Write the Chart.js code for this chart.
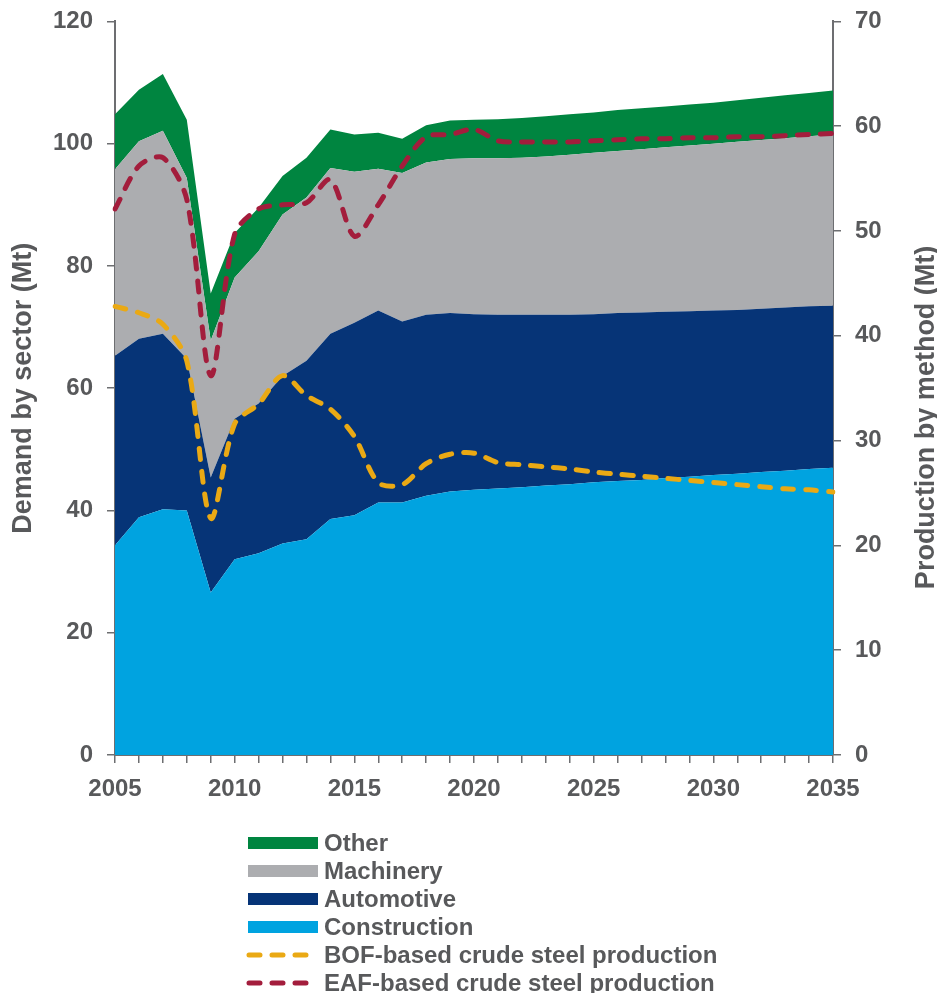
<!DOCTYPE html>
<html>
<head>
<meta charset="utf-8">
<script src="https://cdn.jsdelivr.net/npm/chart.js@4"></script>
<style>
  body { margin: 0; background: #fff; font-family: "Liberation Sans", Arial, sans-serif; }
  #wrap { position: relative; width: 937px; height: 993px; overflow: hidden; }
  #box { position: absolute; left: 0; top: -7px; width: 937px; height: 812px; }
  #legend { position: absolute; left: 246px; top: 829px; }
  .item { display: flex; align-items: center; height: 28px; }
  .item canvas { width: 72px; height: 14px; margin-right: 6px; }
  .item span { font-weight: bold; font-size: 24px; color: #58595b; }
</style>
</head>
<body>
<div id="wrap">
  <div id="box"><canvas id="steel"></canvas></div>
  <div id="legend"></div>
</div>
<script>
const years = ['2005','2006','2007','2008','2009','2010','2011','2012','2013','2014','2015',
  '2016','2017','2018','2019','2020','2021','2022','2023','2024','2025',
  '2026','2027','2028','2029','2030','2031','2032','2033','2034','2035']

// demand by sector, Mt (stacked)
const construction = [34.3, 38.9, 40.2, 40.0, 26.6, 32.0, 33.0, 34.6, 35.3, 38.6, 39.2,
  41.3, 41.3, 42.4, 43.1, 43.4, 43.6, 43.8, 44.1, 44.3, 44.6,
  44.8, 45.0, 45.3, 45.5, 45.8, 46.0, 46.3, 46.5, 46.8, 47.0]
const automotive = [31.0, 29.2, 28.7, 24.8, 18.8, 23.0, 24.5, 27.4, 29.2, 30.3, 31.5,
  31.4, 29.6, 29.6, 29.2, 28.7, 28.4, 28.2, 27.9, 27.7, 27.5,
  27.5, 27.4, 27.2, 27.1, 26.9, 26.8, 26.7, 26.7, 26.6, 26.5]
const machinery = [30.5, 32.3, 33.2, 29.6, 22.4, 23.1, 24.9, 26.4, 26.7, 27.1, 24.7,
  23.2, 24.3, 24.9, 25.2, 25.5, 25.6, 25.7, 25.9, 26.2, 26.4,
  26.5, 26.7, 26.9, 27.1, 27.3, 27.5, 27.6, 27.7, 27.8, 28.0]
const other = [9.0, 8.4, 9.3, 9.5, 7.7, 7.3, 7.1, 6.3, 6.5, 6.3, 6.1,
  5.9, 5.6, 6.1, 6.3, 6.3, 6.4, 6.5, 6.6, 6.6, 6.6,
  6.7, 6.7, 6.7, 6.7, 6.7, 6.8, 6.9, 7.0, 7.1, 7.2]

// production by method, Mt (right axis)
const bof = [42.8, 42.2, 41.1, 37.6, 22.6, 31.6, 33.5, 36.2, 34.3, 33.0, 30.4,
  26.0, 25.8, 27.8, 28.7, 28.8, 27.9, 27.7, 27.5, 27.3, 27.0,
  26.8, 26.6, 26.4, 26.2, 26.0, 25.8, 25.6, 25.4, 25.3, 25.1]
const eaf = [52.1, 56.2, 57.0, 53.0, 36.2, 49.7, 52.1, 52.5, 52.7, 54.9, 49.5,
  52.5, 56.2, 59.0, 59.2, 59.7, 58.6, 58.5, 58.5, 58.5, 58.6,
  58.7, 58.8, 58.8, 58.9, 58.9, 59.0, 59.0, 59.1, 59.2, 59.3]

const leftTicks = [0, 20, 40, 60, 80, 100, 120]
const rightTicks = [0, 10, 20, 30, 40, 50, 60, 70]
const leftTitle = 'Demand by sector (Mt)'
const rightTitle = 'Production by method (Mt)'

const textColor = '#58595b'
const axisColor = '#6d6e71'
const fontFamily = 'Liberation Sans, Arial, sans-serif'
const tickFont = { family: fontFamily, size: 24, weight: 'bold' }
const titleFont = { family: fontFamily, size: 27, weight: 'bold', lineHeight: 1 }

function area(label, data, color, fill) {
  return {
    label: label, data: data, yAxisID: 'y', fill: fill,
    backgroundColor: color, borderColor: color, borderWidth: 0,
    pointRadius: 0, tension: 0
  }
}
function dashed(label, data, color) {
  return {
    label: label, data: data, yAxisID: 'y1', fill: false, order: -1,
    borderColor: color, backgroundColor: color, borderWidth: 5,
    borderDash: [11, 12], borderCapStyle: 'round', borderJoinStyle: 'round',
    pointRadius: 0, tension: 0.3
  }
}

// right-hand title reads bottom-to-top like the left one
const rightTitlePlugin = {
  id: 'rightTitle',
  afterDraw(chart) {
    const ctx = chart.ctx
    ctx.save()
    ctx.translate(chart.width - 10, chart.chartArea.top + 396)
    ctx.rotate(-Math.PI / 2)
    ctx.font = 'bold 27px ' + fontFamily
    ctx.fillStyle = textColor
    ctx.textAlign = 'center'
    ctx.textBaseline = 'middle'
    ctx.fillText(rightTitle, 0, 0)
    ctx.restore()
  }
}

const chart = new Chart(document.getElementById('steel'), {
  type: 'line',
  data: {
    labels: years,
    datasets: [
      area('Construction', construction, '#00a3e0', 'origin'),
      area('Automotive', automotive, '#063477', '-1'),
      area('Machinery', machinery, '#acadb0', '-1'),
      area('Other', other, '#008540', '-1'),
      dashed('BOF-based crude steel production', bof, '#eaa914'),
      dashed('EAF-based crude steel production', eaf, '#a31d3c')
    ]
  },
  plugins: [rightTitlePlugin],
  options: {
    responsive: true,
    maintainAspectRatio: false,
    animation: false,
    layout: { padding: { top: 13, left: 0, right: 0, bottom: 0 } },
    plugins: { legend: { display: false }, tooltip: { enabled: false } },
    scales: {
      x: {
        offset: false,
        grid: { display: true, drawOnChartArea: false, drawTicks: true, tickLength: 8, color: axisColor, lineWidth: 1.5 },
        border: { display: true, color: axisColor, width: 2 },
        ticks: {
          autoSkip: false, maxRotation: 0, padding: 12, color: textColor, font: tickFont,
          callback: function (v, i) { return years[i] % 5 === 0 ? years[i] : '' }
        },
        afterFit: s => { s.height = 50 }
      },
      y: {
        position: 'left', stacked: true, min: 0, max: 120,
        afterBuildTicks: s => { s.ticks = leftTicks.map(v => ({ value: v })) },
        grid: { drawOnChartArea: false, tickLength: 8, color: axisColor, lineWidth: 1.5 },
        border: { display: true, color: axisColor, width: 2 },
        ticks: { padding: 14, color: textColor, font: tickFont },
        title: {
          display: true, text: leftTitle, color: textColor,
          font: titleFont, padding: { top: 10, bottom: 0 }
        },
        afterFit: s => { s.width = 115 }
      },
      y1: {
        position: 'right', stacked: false, min: 0, max: 70,
        afterBuildTicks: s => { s.ticks = rightTicks.map(v => ({ value: v })) },
        grid: { drawOnChartArea: false, tickLength: 8, color: axisColor, lineWidth: 1.5 },
        border: { display: true, color: axisColor, width: 2 },
        ticks: { padding: 14, color: textColor, font: tickFont },
        afterFit: s => { s.width = 104 }
      }
    }
  }
})

// legend: sectors top-down, then the two production lines
const legendOrder = [3, 2, 1, 0, 4, 5]
const legendBox = document.getElementById('legend')
legendOrder.forEach(i => {
  const ds = chart.data.datasets[i]
  const row = document.createElement('div')
  row.className = 'item'
  const sw = document.createElement('canvas')
  sw.width = 72; sw.height = 14
  const g = sw.getContext('2d')
  if (ds.yAxisID === 'y1') {
    g.strokeStyle = ds.borderColor
    g.lineWidth = 5
    g.lineCap = 'round'
    g.setLineDash([11, 12])
    g.beginPath(); g.moveTo(3, 7); g.lineTo(70, 7); g.stroke()
  } else {
    g.fillStyle = ds.backgroundColor
    g.fillRect(2, 1, 70, 12)
  }
  const txt = document.createElement('span')
  txt.textContent = ds.label
  row.appendChild(sw)
  row.appendChild(txt)
  legendBox.appendChild(row)
})
</script>
</body>
</html>
